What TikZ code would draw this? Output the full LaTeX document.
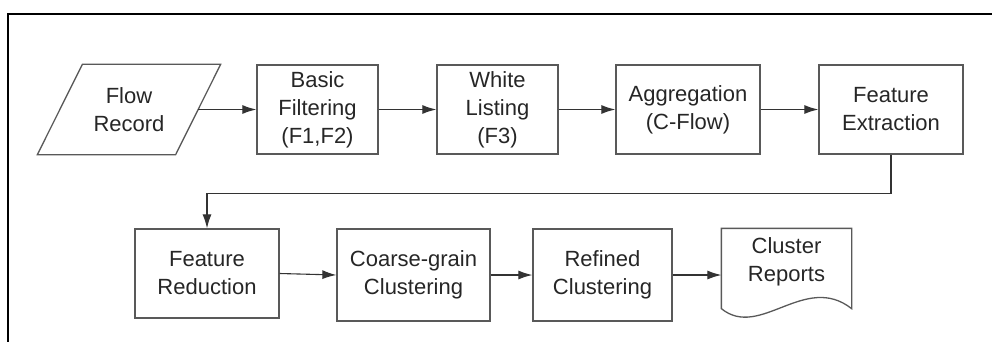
\documentclass[tikz,border=0pt]{standalone}
\usepackage{fontspec}
\setmainfont{Liberation Sans}
\usetikzlibrary{arrows.meta}

\begin{document}
\begin{tikzpicture}[x=1pt,y=-1pt,
  outline/.style={draw=black!65,line width=1.3pt},
  stage/.style={outline,align=center,inner sep=0pt,text=black!85,font=\fontsize{22}{28}\selectfont},
  flowto/.style={->,>={Latex[length=14pt,width=9pt]},draw=black!80,line width=1.1pt}]
\useasboundingbox (0,0) rectangle (992,342);
\draw[line width=2pt] (1000,14) -- (8,14) -- (8,350);
\node[stage,draw=none,minimum width=137pt,minimum height=89pt] (rec) at (129,109.5) {Flow\\Record};
\draw[outline] ([xshift=22.5pt]rec.north west) -- ([xshift=22.5pt]rec.north east) -- ([xshift=-22.5pt]rec.south east) -- ([xshift=-22.5pt]rec.south west) -- cycle;
\node[stage,minimum width=121pt,minimum height=89pt] (filt) at (317.5,109.5) {Basic\\Filtering\\(F1,F2)};
\node[stage,minimum width=121pt,minimum height=89pt] (white) at (497.5,109.5) {White\\Listing\\(F3)};
\node[stage,minimum width=144pt,minimum height=89pt] (agg) at (688,109.5) {Aggregation\\(C-Flow)};
\node[stage,minimum width=144pt,minimum height=89pt] (fext) at (891,109.5) {Feature\\Extraction};
\node[stage,minimum width=144pt,minimum height=89pt] (fred) at (207,273.5) {Feature\\Reduction};
\node[stage,minimum width=153pt,minimum height=92pt] (coarse) at (413.5,275) {Coarse-grain\\Clustering};
\node[stage,minimum width=139pt,minimum height=92pt] (refined) at (602.5,275) {Refined\\Clustering};
\node[stage,draw=none,minimum width=129pt,minimum height=66pt] (report) at (786.5,262) {Cluster\\Reports};
\draw[outline] (report.north west) -- (report.north east) -- ([yshift=-13pt]report.south east) .. controls (805,272) and (760,340) .. ([yshift=-13pt]report.south west) -- cycle;
\draw[flowto] (rec.east) -- (filt.west);
\draw[flowto] (filt.east) -- (white.west);
\draw[flowto] (white.east) -- (agg.west);
\draw[flowto] (agg.east) -- (fext.west);
\draw[flowto] (fext.south) -- ++(0,39) -| (fred.north);
\draw[flowto] (fred.east) -- (coarse.west);
\draw[flowto] (coarse.east) -- (refined.west);
\draw[flowto] (refined.east) -- (refined.east -| report.west);
\end{tikzpicture}
\end{document}
